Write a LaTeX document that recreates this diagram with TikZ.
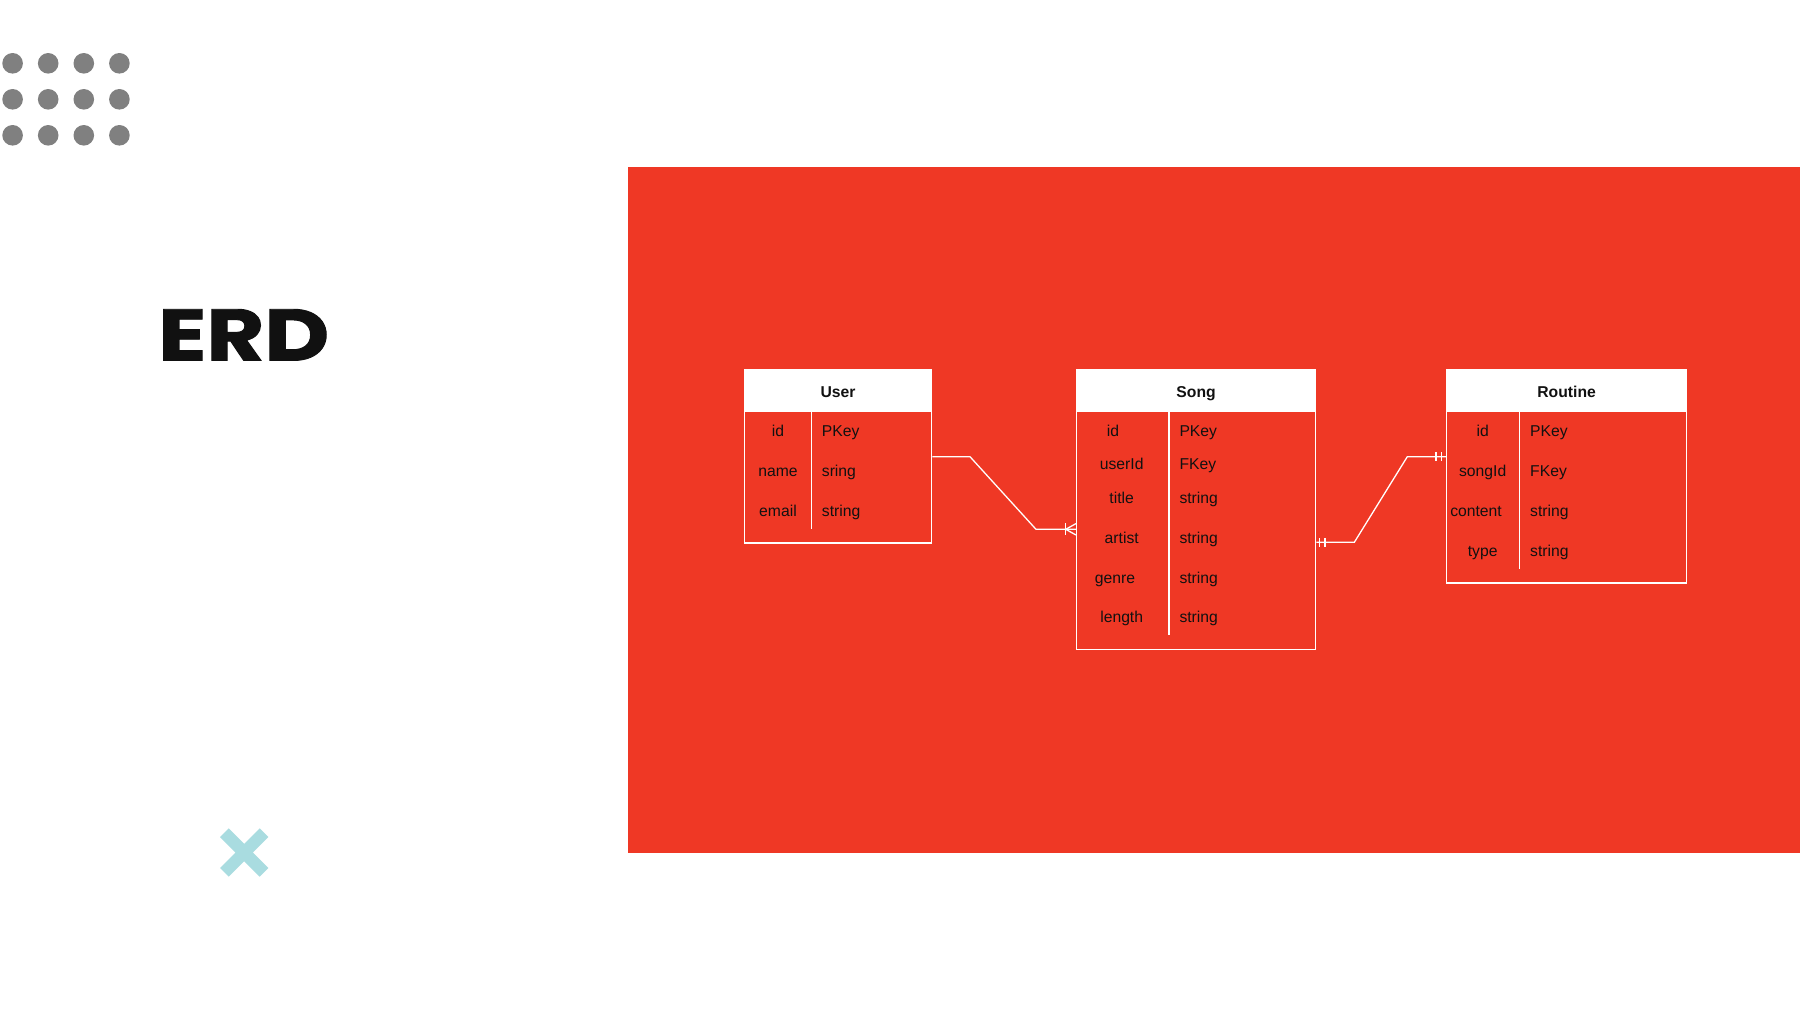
\documentclass[tikz,border=0pt]{standalone}
\usepackage{fontspec}
\setmainfont{Liberation Sans}
\newfontfamily\erdfont{Poppins}[BoldFeatures={FakeBold=1.3}]
\definecolor{erdred}{RGB}{239,56,37}
\definecolor{dotgray}{RGB}{128,128,128}
\definecolor{xteal}{RGB}{169,220,224}
\definecolor{inkblack}{RGB}{17,17,17}
\begin{document}
\begin{tikzpicture}[x=1pt,y=-1pt, font=\fontsize{15.7}{18}\selectfont,
  hdr/.style={fill=white, draw=white, line width=1.2pt, inner sep=0pt, anchor=north west,
    font=\fontsize{15.7}{18}\selectfont\bfseries, text=inkblack, text height=14.6pt, text depth=0pt},
  tbody/.style={draw=white, line width=1.3pt, anchor=north west, inner sep=0pt},
  fld/.style={anchor=base, inner sep=0pt, text=inkblack},
  typ/.style={anchor=base west, inner sep=0pt, text=inkblack},
  link/.style={draw=white, line width=1.3pt},
  divider/.style={draw=white, line width=1.3pt}]
\useasboundingbox (0,0) rectangle (1800,1013);
\fill[white] (0,0) rectangle (1800,1013);
\fill[erdred] (628.3,166.6) rectangle (1800,852.6);
% dots
\foreach \x in {12.6,48.2,83.8,119.4}
  \foreach \y in {63.3,99.3,135.3}
    \fill[dotgray] (\x,\y) circle (10.3pt);
% title
\node[anchor=base west, inner sep=0pt, font=\erdfont\bfseries\fontsize{73}{73}\selectfont, text=inkblack] (title) at (158,360.5) {\scalebox{1.22}[1]{ERD}};
% cross
\draw[xteal, line width=12.3pt] (224.4,832.7) -- (264,872.3) (224.4,872.3) -- (264,832.7);
% User
\node[hdr, minimum width=187pt, minimum height=41.4pt] (userhead) at (744,369.3) {User};
\node[tbody, minimum width=187pt, minimum height=131.6pt] (userbody) at (744,410.7) {};
\draw[divider] (811.7,410.7) -- (811.7,529.3);
\node[fld] (u1) at (778,436.7) {id};
\node[fld] (u2) at (778,476.4) {name};
\node[fld] (u3) at (778,516.4) {email};
\node[typ] (ut1) at (821.7,436.7) {PKey};
\node[typ] (ut2) at (821.7,476.4) {sring};
\node[typ] (ut3) at (821.7,516.4) {string};
% Song
\node[hdr, minimum width=239pt, minimum height=41.4pt] (songhead) at (1076,369.3) {Song};
\node[tbody, minimum width=239pt, minimum height=238pt] (songbody) at (1076,410.7) {};
\draw[divider] (1169,410.7) -- (1169,635.3);
\node[fld] (s1) at (1113,436.7) {id};
\node[fld] (s2) at (1121.7,469.7) {userId};
\node[fld] (s3) at (1121.7,503) {title};
\node[fld] (s4) at (1121.7,543) {artist};
\node[fld] (s5) at (1115,583) {genre};
\node[fld] (s6) at (1121.7,622.4) {length};
\node[typ] (st1) at (1179.3,436.7) {PKey};
\node[typ] (st2) at (1179.3,469.7) {FKey};
\node[typ] (st3) at (1179.3,503) {string};
\node[typ] (st4) at (1179.3,543) {string};
\node[typ] (st5) at (1179.3,583) {string};
\node[typ] (st6) at (1179.3,622.4) {string};
% Routine
\node[hdr, minimum width=240pt, minimum height=41.4pt] (routhead) at (1446,369.3) {Routine};
\node[tbody, minimum width=240pt, minimum height=171.6pt] (routbody) at (1446,410.7) {};
\draw[divider] (1519.3,410.7) -- (1519.3,569.3);
\node[fld] (r1) at (1482.7,436.7) {id};
\node[fld] (r2) at (1482.7,476.4) {songId};
\node[fld] (r3) at (1476,516.4) {content};
\node[fld] (r4) at (1482.7,556.4) {type};
\node[typ] (rt1) at (1530,436.7) {PKey};
\node[typ] (rt2) at (1530,476.4) {FKey};
\node[typ] (rt3) at (1530,516.4) {string};
\node[typ] (rt4) at (1530,556.4) {string};
% connector User - Song (one to many)
\draw[link] (userbody.east |- 0,456.7) -- (970,456.7) -- (1036,529.3) -- (songbody.west |- 0,529.3);
\draw[link] (1065.7,523.3) -- (1065.7,535.3);
\draw[link] (songbody.west |- 0,523.6) -- (1065.7,529.3) -- (songbody.west |- 0,535);
% connector Song - Routine (one to one)
\draw[link] (songbody.east |- 0,542.3) -- (1354.3,542.3) -- (1407.3,456.7) -- (routbody.west |- 0,456.7);
\draw[link] (1319.3,537.8) -- (1319.3,546.8);
\draw[link] (1325,537.8) -- (1325,546.8);
\draw[link] (1436,452.2) -- (1436,461.2);
\draw[link] (1441.7,452.2) -- (1441.7,461.2);
\end{tikzpicture}
\end{document}
